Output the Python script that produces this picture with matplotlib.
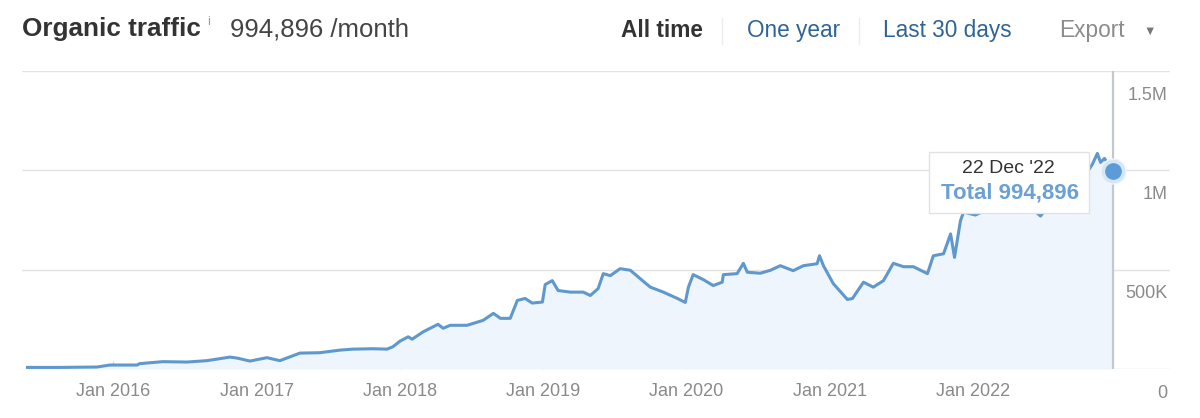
import matplotlib
matplotlib.use('Agg')
import matplotlib.pyplot as plt
import matplotlib.dates as mdates
from matplotlib import transforms
from matplotlib.patches import Rectangle
from matplotlib.lines import Line2D
import pandas as pd

plt.rcParams['font.family'] = ['Liberation Sans', 'DejaVu Sans']

# organic traffic (thousands / month)
dates = ['2015-05-28', '2015-08-19', '2015-11-21', '2015-12-24', '2016-03-02',
         '2016-03-09', '2016-05-07', '2016-07-07', '2016-08-27', '2016-10-25',
         '2016-11-12', '2016-12-15', '2017-01-27', '2017-03-01', '2017-04-21',
         '2017-06-11', '2017-08-01', '2017-09-03', '2017-10-24', '2017-11-29',
         '2017-12-14', '2018-01-01', '2018-01-22', '2018-02-01', '2018-03-01',
         '2018-04-08', '2018-04-21', '2018-05-09', '2018-06-21', '2018-08-01',
         '2018-08-27', '2018-09-14', '2018-10-09', '2018-10-27', '2018-11-16',
         '2018-12-04', '2018-12-30', '2019-01-06', '2019-01-24', '2019-02-08',
         '2019-03-11', '2019-04-13', '2019-05-01', '2019-05-21', '2019-06-03',
         '2019-06-21', '2019-07-16', '2019-08-11', '2019-09-05', '2019-10-01',
         '2019-11-03', '2019-12-09', '2019-12-29', '2020-01-06', '2020-01-18',
         '2020-02-13', '2020-03-09', '2020-04-01', '2020-04-04', '2020-05-09',
         '2020-05-25', '2020-06-04', '2020-07-07', '2020-08-02', '2020-08-27',
         '2020-09-29', '2020-10-25', '2020-11-29', '2020-12-05', '2020-12-15',
         '2021-01-09', '2021-02-14', '2021-02-27', '2021-03-27', '2021-04-21',
         '2021-05-17', '2021-06-11', '2021-07-07', '2021-08-01', '2021-09-06',
         '2021-09-21', '2021-10-17', '2021-11-04', '2021-11-14', '2021-11-29',
         '2021-12-07', '2022-01-06', '2022-02-14', '2022-03-24', '2022-04-23',
         '2022-05-26', '2022-06-21', '2022-07-16', '2022-09-05', '2022-10-21',
         '2022-10-31', '2022-11-13', '2022-11-21', '2022-12-01', '2022-12-22']
traffic = [8, 8, 10, 20, 20,
           27, 37, 35, 42, 60,
           55, 40, 57, 42, 80,
           82, 95, 100, 102, 100,
           112, 140, 162, 150, 187,
           225, 205, 220, 220, 245,
           280, 255, 255, 345, 355,
           332, 337, 425, 445, 395,
           387, 387, 370, 405, 480,
           470, 505, 497, 455, 412,
           387, 355, 335, 412, 475,
           450, 420, 437, 475, 480,
           532, 487, 482, 497, 520,
           495, 520, 530, 570, 520,
           430, 350, 355, 437, 412,
           445, 532, 515, 515, 480,
           570, 580, 680, 562, 745,
           790, 775, 810, 820, 790,
           815, 770, 830, 900, 1000,
           1030, 1085, 1040, 1060, 994.896]

tick_dates = ['2016-01-01', '2017-01-01', '2018-01-01', '2019-01-01',
              '2020-01-01', '2021-01-01', '2022-01-01']
y_ticks = [0, 500000, 1000000, 1500000]
y_labels = ['0', '500K', '1M', '1.5M']
tip_date = "22 Dec '22"
tip_total = 'Total 994,896'

x = pd.to_datetime(dates)
y = [v * 1000 for v in traffic]

fig = plt.figure(figsize=(12, 4.18), dpi=100)
ax = fig.add_axes([22 / 1200, 49 / 418, 1148 / 1200, 298 / 418])

ax.fill_between(x, y, 0, color='#eef5fc', lw=0, zorder=1)
ax.plot(x, y, color='#5f98cc', lw=2.2, zorder=3, solid_joinstyle='round')
ax.axvline(x[-1], color='#c3c8cf', lw=1.6, zorder=2)

# end point marker
ax.plot(x[-1], y[-1], 'o', ms=18, color='#d6e6f5', mec='#eef5fc', zorder=4, clip_on=False)
ax.plot(x[-1], y[-1], 'o', ms=11, color='#5b9bd8', mec='#5b9bd8', zorder=5, clip_on=False)

ax.set_xlim(pd.Timestamp('2015-05-14'), pd.Timestamp('2023-05-17'))
ax.set_ylim(0, 1500000)

for s in ax.spines.values():
    s.set_visible(False)
ax.set_yticks(y_ticks)
ax.set_yticklabels(y_labels)
ax.grid(axis='y', color='#e3e3e3', lw=1)
ax.set_axisbelow(True)

ax.set_xticks(pd.to_datetime(tick_dates))
ax.xaxis.set_major_formatter(mdates.DateFormatter('%b %Y'))
ax.tick_params(axis='x', direction='in', length=6, color='#d5d5d5',
               labelsize=13, labelcolor='#8a8a8a', pad=10)
ax.tick_params(axis='y', length=0, left=False, right=False,
               labelleft=False, labelright=True,
               labelsize=13, labelcolor='#8a8a8a', pad=-2)
shift = transforms.ScaledTranslation(0, -0.22, fig.dpi_scale_trans)
for lab in ax.yaxis.get_majorticklabels():
    lab.set_horizontalalignment('right')
    lab.set_transform(lab.get_transform() + shift)

# tooltip box, placed in inches relative to the last point
x_end = mdates.date2num(x[-1])
tr = fig.dpi_scale_trans + transforms.ScaledTranslation(x_end, y[-1], ax.transData)
ax.add_patch(Rectangle((-1.84, -0.42), 1.60, 0.61, transform=tr, facecolor='white',
                       edgecolor='#e2e2e2', lw=1, zorder=6, clip_on=False))
ax.text(-1.04, 0.03, tip_date, transform=tr, ha='center', va='center',
        fontsize=14, color='#333333', zorder=7)
ax.text(-1.03, -0.22, tip_total, transform=tr, ha='center', va='center',
        fontsize=16, fontweight='bold', color='#6aa0d3', zorder=7)

# header
def px(xp, yp):
    return xp / 1200, 1 - yp / 418

fig.text(*px(22, 36), 'Organic traffic', fontsize=18.8, fontweight='bold', color='#333333')
fig.text(*px(207, 25), 'i', fontsize=9, color='#999999')
fig.text(*px(230, 36), '994,896 /month', fontsize=18.5, color='#444444')

fig.text(*px(621, 37), 'All time', fontsize=16.3, fontweight='bold', color='#333333')
fig.text(*px(747, 37), 'One year', fontsize=16.3, color='#2f6497')
fig.text(*px(883, 37), 'Last 30 days', fontsize=16.3, color='#2f6497')
fig.text(*px(1059, 37), 'Export', fontsize=16.3, color='#8c8c8c')
fig.text(*px(1143, 35), '\u25bc', fontsize=9, color='#777777')
for xs in (722, 859):
    fig.add_artist(Line2D([xs / 1200, xs / 1200], [1 - 18 / 418, 1 - 44 / 418],
                          color='#ededed', lw=1))

fig.savefig('out.png', dpi=100)
